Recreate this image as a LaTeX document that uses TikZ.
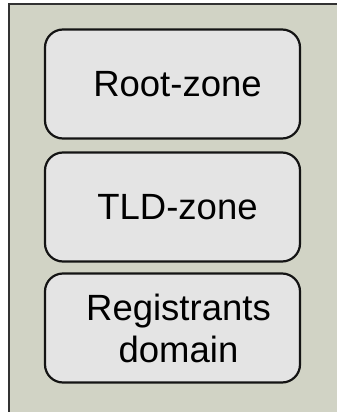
\documentclass[tikz,border=0pt]{standalone}
\usepackage{fontspec}
\setmainfont{Liberation Sans}
\definecolor{outerfill}{RGB}{209,211,197}
\definecolor{boxfill}{RGB}{228,228,228}
\definecolor{outerline}{RGB}{50,50,50}
\definecolor{boxline}{RGB}{20,20,20}
\begin{document}
\begin{tikzpicture}[x=1pt,y=-1pt,
  zonebox/.style={draw=boxline, line width=2.2pt, fill=boxfill, rounded corners=18pt,
    minimum width=255pt, minimum height=109pt, inner sep=0pt, align=center,
    font=\fontsize{36.5}{42}\selectfont}]
\useasboundingbox (0,0) rectangle (337,412);
\clip (0,0) rectangle (337,412);
\draw[draw=outerline, line width=2pt, fill=outerfill] (9,4) rectangle (420,480);
\node[zonebox] (root) at (172.5,84) {\hspace*{10pt}Root-zone};
\node[zonebox] (tld) at (172.5,207) {\hspace*{10pt}TLD-zone};
\node[zonebox] (reg) at (172.5,328) {\hspace*{12pt}Registrants\\\hspace*{12pt}domain};
\end{tikzpicture}
\end{document}
